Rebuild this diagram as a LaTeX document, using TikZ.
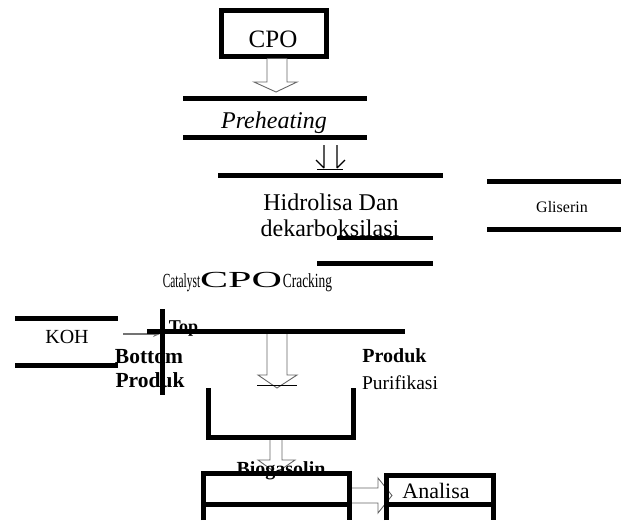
\documentclass[tikz,border=0pt]{standalone}
\usepackage{fontspec}
\setmainfont{Liberation Serif}
\usetikzlibrary{arrows.meta}
\begin{document}
\begin{tikzpicture}[x=1pt,y=-1pt,
  bar/.style={line width=5pt,line join=miter},
  thinbar/.style={line width=4pt},
  hollow/.style={draw=black!60,line width=0.9pt,fill=white,line join=miter},
  lbl/.style={inner sep=0pt,anchor=base},
  fs/.style={font=\fontsize{#1}{#1}\selectfont},
  fsb/.style={font=\fontsize{#1}{#1}\selectfont\bfseries},
  fsi/.style={font=\fontsize{#1}{#1}\selectfont\itshape}]
\useasboundingbox (0,0) rectangle (621,520);
% CPO box
\draw[bar] (221,10) rectangle (326,56);
\node[lbl,fs=25] (cpo) at (273,47) {CPO};
\draw[hollow] (267,58.5) -- (267,82) -- (254,82) -- (276,92) -- (297,82) -- (287,82) -- (287,58.5);
% Preheating
\draw[bar] (183,98) -- (367,98);
\node[lbl,fsi=24] (pre) at (274,128) {Preheating};
\draw[bar] (183,137) -- (367,137);
% double arrows
\draw[line width=1.2pt] (324,145) -- (324,168) (316,160) -- (324,168);
\draw[line width=1.2pt] (337,145) -- (337,168) (345,160) -- (337,168);
\draw[line width=1pt] (317,169.5) -- (343,169.5);
% Hidrolisa
\draw[bar] (218,175) -- (443,175);
\node[lbl,fs=24] (hid) at (331,210) {Hidrolisa Dan};
\node[lbl,fs=24] (dek) at (330,236) {dekarboksilasi};
\draw[thinbar] (337,238) -- (433,238);
\draw[bar] (317,263) -- (433,263);
% Gliserin
\draw[bar] (487,181) -- (621,181);
\draw[bar] (487,229) -- (621,229);
\node[lbl,fs=16] (gli) at (562,212) {Gliserin};
% Catalyst CPO Cracking
\node[lbl,fs=20] (cat) at (181.5,287) {\scalebox{0.57}[1]{Catalyst}};
\node[lbl,fs=23] (cpo2) at (241,287) {\scalebox{1.83}[1]{CPO}};
\node[lbl,fs=20] (cra) at (307.5,287) {\scalebox{0.67}[1]{Cracking}};
% KOH
\draw[bar] (15,318) -- (118,318);
\draw[bar] (15,365) -- (118,365);
\node[lbl,fs=20] (koh) at (67,343) {KOH};
\draw[black!55,line width=1.5pt,-{Stealth[length=7pt,width=6pt]}] (123,334) -- (160,334);
% column
\draw[bar] (162,309) -- (162,395);
\draw[bar] (147,331) -- (405,331);
\node[lbl,fsb=18] (top) at (183.5,332) {Top};
\node[lbl,fsb=21.5] (bot) at (149,363) {Bottom};
\node[lbl,fsb=21.5] (prl) at (150,387) {Produk};
\node[lbl,fsb=20] (prr) at (394.5,362) {Produk};
\node[lbl,fs=19.5] (pur) at (400,389) {Purifikasi};
% arrow to purification
\draw[hollow] (267,334) -- (267,375) -- (258,375) -- (277,388) -- (297,375) -- (287,375) -- (287,334);
\draw[line width=1pt] (257,385.5) -- (297,385.5);
% U vessel
\draw[bar] (208,388) -- (208,437) -- (353,437) -- (353,388);
% arrow to biogasolin
\draw[hollow] (270,440) -- (270,460) -- (258,460) -- (276,473) -- (295,460) -- (282,460) -- (282,440);
% bottom boxes
\draw[hollow] (352,488) -- (378,488) -- (378,478) -- (392,495.5) -- (378,513) -- (378,503) -- (352,503);
\draw[bar] (203,520) -- (203,473) -- (349,473) -- (349,520);
\draw[bar] (203,504) -- (349,504);
\draw[bar] (386,520) -- (386,475) -- (493,475) -- (493,520);
\draw[bar] (386,504) -- (493,504);
\node[lbl,fsb=20] (bio) at (281,475) {Biogasolin};
\node[lbl,fs=22] (ana) at (436,498) {Analisa};
\end{tikzpicture}
\end{document}
